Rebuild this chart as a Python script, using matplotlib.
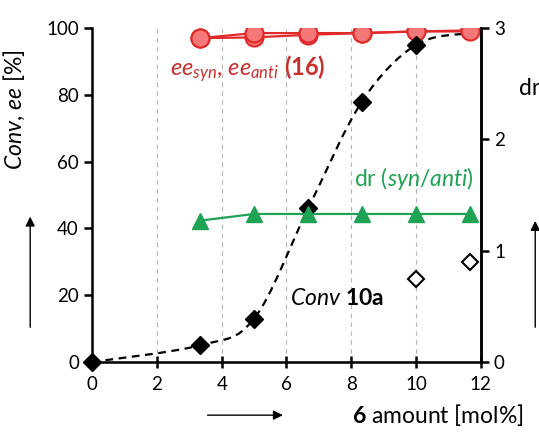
import matplotlib.pyplot as plt
from matplotlib.path import Path
from matplotlib.patches import PathPatch, FancyArrowPatch

plt.rcParams["font.family"] = "Lato"
plt.rcParams["mathtext.fontset"] = "custom"
plt.rcParams["mathtext.rm"] = "Lato"
plt.rcParams["mathtext.it"] = "Lato:italic"
plt.rcParams["mathtext.bf"] = "Lato:bold"

# data
amount = [3.33, 5.0, 6.67, 8.33, 10.0, 11.67]
conv_x = [0, 3.33, 5.0, 6.67, 8.33, 10.0, 11.67]
conv = [0, 5, 13, 46, 78, 95, 98.5]
ee_syn = [97, 98.5, 98.5, 98.5, 99, 99]
ee_anti = [97, 97.2, 98, 98.5, 99, 99.3]
dr = [1.27, 1.33, 1.33, 1.33, 1.33, 1.33]
open_x = [10.0, 11.67]
open_y = [25, 30]

red_edge = "#e02a2a"
red_fill = "#f47878"
green = "#1ea354"

fig = plt.figure(figsize=(5.39, 4.32), dpi=100)
ax = fig.add_axes([0.171, 0.162, 0.721, 0.773])

# vertical dashed grid
for gx in [2, 4, 6, 8, 10]:
    ax.axvline(gx, color="#b5b5b5", lw=0.8, ls=(0, (4, 4)), zorder=0)

# red ee series
ax.plot(amount, ee_anti, "-o", color=red_edge, mfc=red_fill, mec=red_edge,
        ms=13, mew=1.5, lw=1.6, zorder=3)
ax.plot(amount, ee_syn, "-o", color=red_edge, mfc=red_fill, mec=red_edge,
        ms=13, mew=1.5, lw=1.6, zorder=3)

# smoothed dashed conv curve (Catmull-Rom as cubic Bezier)
verts = [(conv_x[0], conv[0])]
codes = [Path.MOVETO]
n = len(conv_x)
for i in range(n - 1):
    p0 = (conv_x[max(i - 1, 0)], conv[max(i - 1, 0)])
    p1 = (conv_x[i], conv[i])
    p2 = (conv_x[i + 1], conv[i + 1])
    p3 = (conv_x[min(i + 2, n - 1)], conv[min(i + 2, n - 1)])
    c1 = (p1[0] + (p2[0] - p0[0]) / 6, p1[1] + (p2[1] - p0[1]) / 6)
    c2 = (p2[0] - (p3[0] - p1[0]) / 6, p2[1] - (p3[1] - p1[1]) / 6)
    verts += [c1, c2, p2]
    codes += [Path.CURVE4] * 3
ax.add_patch(PathPatch(Path(verts, codes), fill=False, ec="black", lw=1.6,
                       ls=(0, (3.5, 2.5)), zorder=2))
ax.plot(conv_x[:-1], conv[:-1], "D", color="black", ms=9, zorder=4,
        clip_on=False)
ax.plot(open_x, open_y, "D", mfc="white", mec="black", mew=1.5, ms=8.5,
        zorder=4)

ax.set_xlim(0, 12)
ax.set_ylim(0, 100)
ax.set_xticks(range(0, 13, 2))
ax.set_yticks(range(0, 101, 20))
ax.spines["top"].set_visible(False)
for s in ["left", "bottom", "right"]:
    ax.spines[s].set_linewidth(1.8)
ax.tick_params(labelsize=13.5, width=1.8, length=6, colors="black")
ax.tick_params(axis="x", direction="inout", length=8, pad=6)

ax2 = ax.twinx()
ax2.plot(amount, dr, "-^", color=green, ms=12, lw=1.6, clip_on=False)
ax2.set_ylim(0, 3)
ax2.set_yticks([0, 1, 2, 3])
ax2.spines["top"].set_visible(False)
ax2.spines["right"].set_linewidth(1.8)
ax2.spines["left"].set_visible(False)
ax2.tick_params(labelsize=13.5, width=1.8, length=6)

# annotations
ax.text(2.4, 88, r"$ee_{syn}$, $ee_{anti}$ $\mathbf{(16)}$", color="#c8302e",
        fontsize=17, va="center")
ax.text(8.1, 55, r"dr ($syn/anti$)", color=green, fontsize=16.5, va="center")
ax.text(6.1, 19, r"$Conv$ $\mathbf{10a}$", color="black", fontsize=16.5,
        va="center")

fig.text(0.026, 0.745, r"$Conv$, $ee$ [%]", rotation=90, fontsize=16.5,
         ha="center", va="center")
fig.text(0.963, 0.796, "dr", fontsize=16.5, ha="left", va="center")
fig.text(0.653, 0.039, r"$\mathbf{6}$ amount [mol%]", fontsize=16.5,
         ha="left", va="center")

arrow = dict(arrowstyle="-|>", color="black", lw=1.0, mutation_scale=14)
fig.patches.append(FancyArrowPatch(
    (0.056, 0.236), (0.056, 0.505), transform=fig.transFigure, **arrow))
fig.patches.append(FancyArrowPatch(
    (0.993, 0.236), (0.993, 0.495), transform=fig.transFigure, **arrow))
fig.patches.append(FancyArrowPatch(
    (0.38, 0.039), (0.53, 0.039), transform=fig.transFigure, **arrow))

fig.savefig("out.png", dpi=100)
